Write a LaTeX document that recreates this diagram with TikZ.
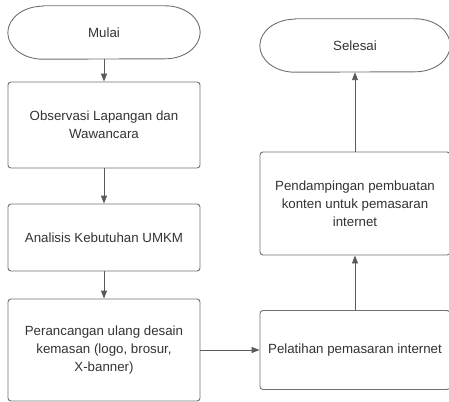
\documentclass[tikz,border=0pt]{standalone}
\usepackage{fontspec}
\setmainfont{Liberation Sans}
\usetikzlibrary{arrows.meta}
\definecolor{edge}{HTML}{707070}
\definecolor{txt}{HTML}{333333}
\tikzset{
  box/.style={draw=edge, line width=0.9pt, rounded corners=3pt, align=center, text=txt,
    font=\fontsize{13.3}{18}\selectfont, inner sep=0pt},
  term/.style={draw=none, align=center, text=txt, font=\fontsize{13.3}{18}\selectfont, inner sep=0pt},
  arr/.style={draw=edge!80!black, line width=0.9pt, -{Triangle[length=8pt,width=6pt]}},
}
\begin{document}
\begin{tikzpicture}[x=1pt,y=-1pt]
\useasboundingbox (0,0) rectangle (449,401);
% terminals
\node[term, minimum width=192pt, minimum height=53pt] (mulai) at (104,32.5) {Mulai};
\draw[edge, line width=0.9pt] (mulai.north west) ++(35,0) -- ([xshift=-35pt]mulai.north east)
  arc[start angle=90, end angle=-90, x radius=35pt, y radius=26.5pt]
  -- ([xshift=35pt]mulai.south west)
  arc[start angle=270, end angle=90, x radius=35pt, y radius=26.5pt] -- cycle;
\node[term, minimum width=190pt, minimum height=53pt] (selesai) at (355,45.5) {Selesai};
\draw[edge, line width=0.9pt] (selesai.north west) ++(35,0) -- ([xshift=-35pt]selesai.north east)
  arc[start angle=90, end angle=-90, x radius=35pt, y radius=26.5pt]
  -- ([xshift=35pt]selesai.south west)
  arc[start angle=270, end angle=90, x radius=35pt, y radius=26.5pt] -- cycle;
% boxes
\node[box, minimum width=192pt, minimum height=86pt] (obs) at (104,125) {Observasi Lapangan dan\\Wawancara};
\node[box, minimum width=192pt, minimum height=67pt] (ana) at (104,237.5) {Analisis Kebutuhan UMKM};
\node[box, minimum width=192pt, minimum height=102pt] (per) at (104,350) {Perancangan ulang desain\\kemasan (logo, brosur,\\X-banner)};
\node[box, minimum width=190pt, minimum height=79pt] (pel) at (355,350) {Pelatihan pemasaran internet};
\node[box, minimum width=190pt, minimum height=103pt] (pen) at (355,203.5) {Pendampingan pembuatan\\konten untuk pemasaran\\internet};
% connectors
\draw[arr] (mulai.south) -- (obs.north);
\draw[arr] (obs.south) -- (ana.north);
\draw[arr] (ana.south) -- (per.north);
\draw[arr] (per.east) -- (pel.west);
\draw[arr] (pel.north) -- (pen.south);
\draw[arr] (pen.north) -- (selesai.south);
\end{tikzpicture}
\end{document}
